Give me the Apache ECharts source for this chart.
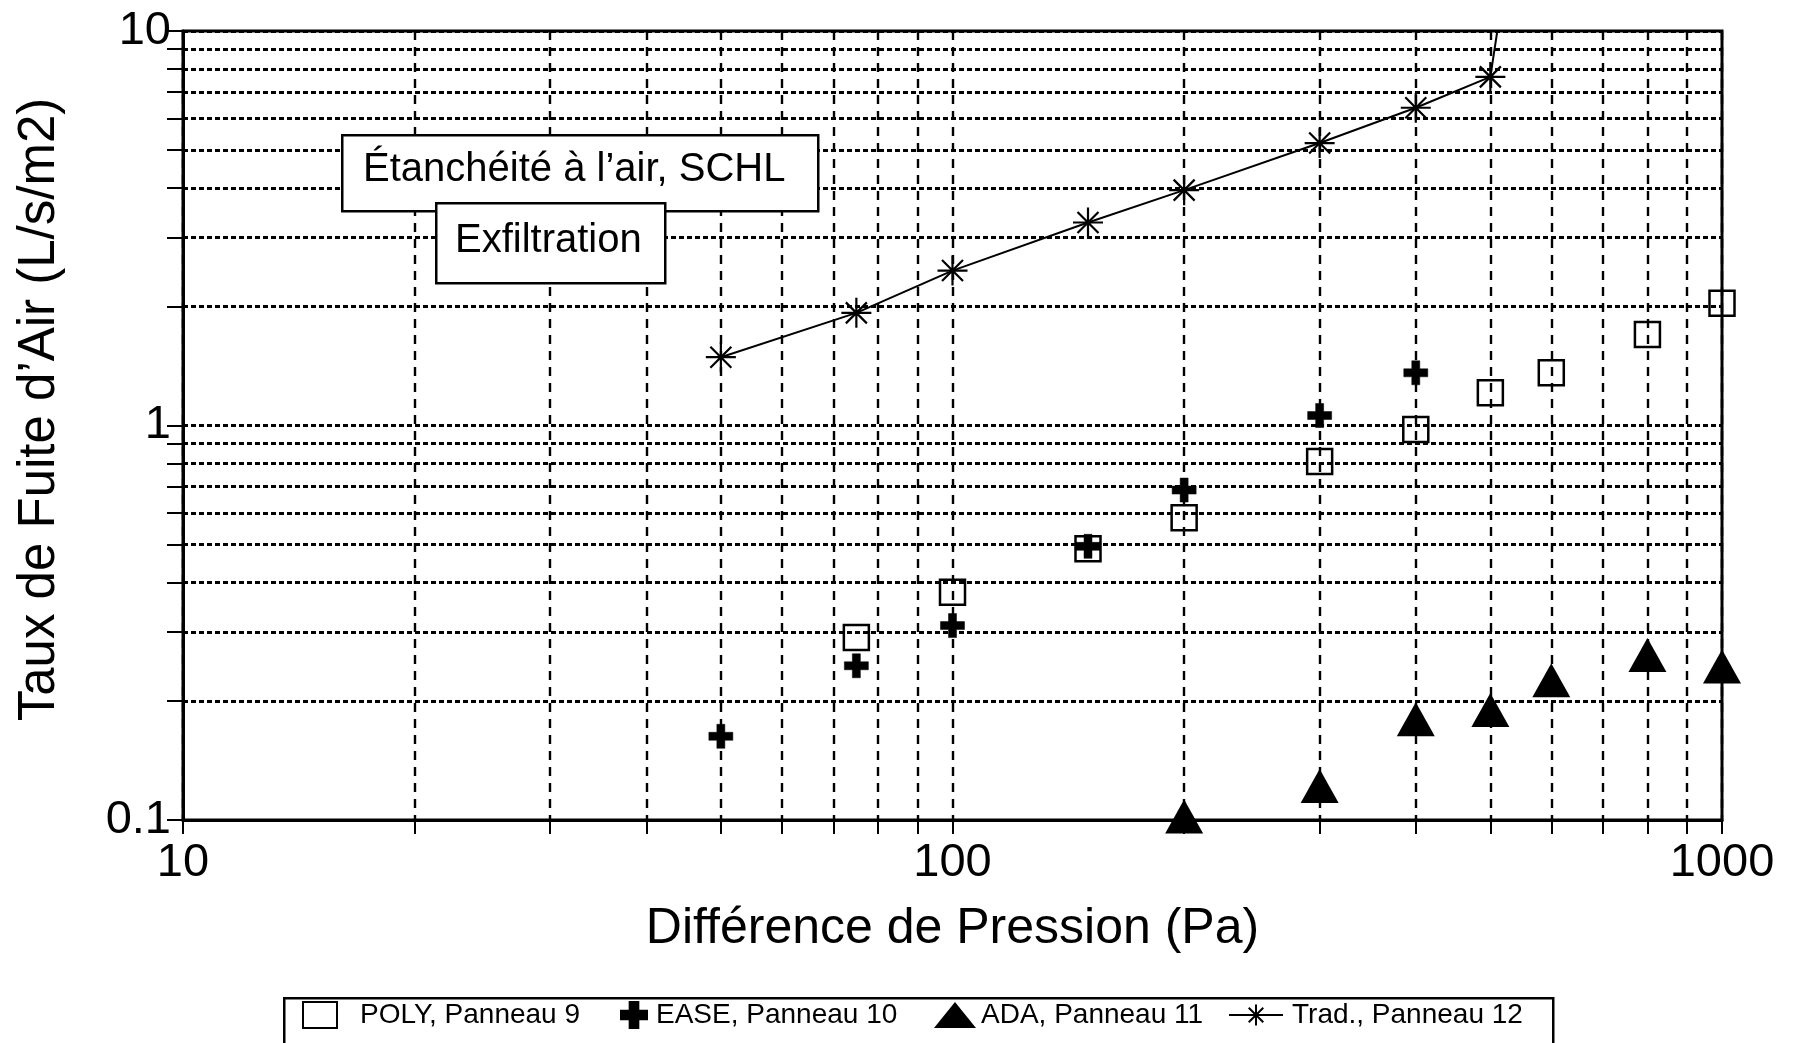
<!DOCTYPE html>
<html>
<head>
<meta charset="utf-8">
<script src="https://cdn.jsdelivr.net/npm/echarts@6/dist/echarts.min.js"></script>
<style>
html,body{margin:0;padding:0;background:#fff;}
#chart{width:1796px;height:1043px;}
</style>
</head>
<body>
<div id="chart"></div>
<script>
// ---- Data ----
const polyPressure = [75, 100, 150, 200, 300, 400, 500, 600, 800, 1000];
const polyRate     = [0.29, 0.378, 0.487, 0.584, 0.81, 0.977, 1.21, 1.36, 1.70, 2.04];

const easePressure = [50, 75, 100, 150, 200, 300, 400];
const easeRate     = [0.163, 0.246, 0.311, 0.494, 0.686, 1.06, 1.36];

const adaPressure  = [200, 300, 400, 500, 600, 800, 1000];
const adaRate      = [0.102, 0.122, 0.18, 0.19, 0.226, 0.262, 0.245];

const tradPressure = [50, 75, 100, 150, 200, 300, 400, 500, 600];
const tradRate     = [1.49, 1.93, 2.47, 3.27, 3.95, 5.2, 6.39, 7.65, 80];

const seriesNames = ['POLY, Panneau 9', 'EASE, Panneau 10', 'ADA, Panneau 11', 'Trad., Panneau 12'];

const xTickValues  = [10, 20, 30, 40, 50, 60, 70, 80, 90, 100, 200, 300, 400, 500, 600, 700, 800, 900, 1000];
const xLabelValues = [10, 100, 1000];
const yTickValues  = [0.1, 0.2, 0.3, 0.4, 0.5, 0.6, 0.7, 0.8, 0.9, 1, 2, 3, 4, 5, 6, 7, 8, 9, 10];
const yLabelValues = [0.1, 1, 10];

const xTitle = 'Différence de Pression (Pa)';
const yTitle = 'Taux de Fuite d\u2019Air (L/s/m2)';
const note1 = 'Étanchéité à l\u2019air, SCHL';
const note2 = 'Exfiltration';

function pairs(xs, ys) { return xs.map((x, i) => [x, ys[i]]); }

const FONT = '"Liberation Sans", Arial, Helvetica, sans-serif';
const plusPath = 'path://M-1,-3L1,-3L1,-1L3,-1L3,1L1,1L1,3L-1,3L-1,1L-3,1L-3,-1L-1,-1Z';
const starPath = 'path://M0,-10L0,10M-10,0L10,0M-7,-7L7,7M-7,7L7,-7';

const chart = echarts.init(document.getElementById('chart'), null, {renderer: 'canvas'});

function legendFor(name, left, itemWidth, textPad) {
  return {
    data: [name],
    left: left,
    top: 1001,
    orient: 'horizontal',
    itemWidth: itemWidth,
    itemHeight: 26,
    padding: 0,
    selectedMode: false,
    textStyle: {fontFamily: FONT, fontSize: 28, color: '#000', padding: [0, 0, 0, textPad]}
  };
}

const option = {
  backgroundColor: '#fff',
  animation: false,
  grid: {
    left: 183, right: 74, top: 31, bottom: 223,
    containLabel: false, outerBoundsMode: 'none',
    show: true, borderColor: '#000', borderWidth: 3, backgroundColor: 'transparent'
  },
  xAxis: {
    type: 'log', logBase: 10, min: 10, max: 1000,
    name: xTitle, nameLocation: 'middle', nameGap: 84,
    nameTextStyle: {fontFamily: FONT, fontSize: 50, color: '#000'},
    axisLine: {show: true, lineStyle: {color: '#000', width: 3}},
    axisTick: {show: true, inside: false, length: 14, customValues: xTickValues, lineStyle: {color: '#000', width: 2}},
    axisLabel: {customValues: xLabelValues, fontFamily: FONT, fontSize: 47, color: '#000', margin: 20,
      formatter: v => String(v)},
    splitLine: {show: true, lineStyle: {color: '#000', width: 2.4, type: [9, 7]}},
    minorTick: {show: false}, minorSplitLine: {show: false}
  },
  yAxis: {
    type: 'log', logBase: 10, min: 0.1, max: 10,
    name: yTitle, nameLocation: 'middle', nameGap: 118,
    nameTextStyle: {fontFamily: FONT, fontSize: 51, color: '#000', padding: [0, 0, 0, 32]},
    axisLine: {show: true, lineStyle: {color: '#000', width: 3}},
    axisTick: {show: true, inside: false, length: 16, customValues: yTickValues, lineStyle: {color: '#000', width: 2}},
    axisLabel: {customValues: yLabelValues, fontFamily: FONT, fontSize: 47, color: '#000', margin: 12,
      formatter: v => String(v)},
    splitLine: {show: true, lineStyle: {color: '#000', width: 3, type: [5, 3]}},
    minorTick: {show: false}, minorSplitLine: {show: false}
  },
  legend: [
    legendFor(seriesNames[0], 302, 34, 18),
    legendFor(seriesNames[1], 620, 34, 0),
    legendFor(seriesNames[2], 934, 42, 0),
    legendFor(seriesNames[3], 1228, 54, 4)
  ],
  graphic: [
    {type: 'rect', left: 283, top: 997, z: 0, silent: true,
      shape: {width: 1269, height: 90},
      style: {fill: '#fff', stroke: '#000', lineWidth: 2.5}},
    {type: 'rect', left: 341, top: 134, z: 100, silent: true,
      shape: {width: 476, height: 76},
      style: {fill: '#fff', stroke: '#000', lineWidth: 2.5}},
    {type: 'text', left: 363, top: 150, z: 101, silent: true,
      style: {text: note1, fontFamily: FONT, fontSize: 40, fill: '#000'}},
    {type: 'rect', left: 435, top: 202, z: 102, silent: true,
      shape: {width: 229, height: 80},
      style: {fill: '#fff', stroke: '#000', lineWidth: 2.5}},
    {type: 'text', left: 455, top: 221, z: 103, silent: true,
      style: {text: note2, fontFamily: FONT, fontSize: 40, fill: '#000'}}
  ],
  series: [
    {
      name: seriesNames[0], type: 'scatter', data: pairs(polyPressure, polyRate),
      symbol: 'rect', symbolSize: 25, z: 5,
      itemStyle: {color: 'rgba(255,255,255,0)', borderColor: '#000', borderWidth: 2.5, opacity: 1}
    },
    {
      name: seriesNames[1], type: 'scatter', data: pairs(easePressure, easeRate),
      symbol: plusPath, symbolSize: 24, z: 6,
      itemStyle: {color: '#000', borderColor: '#000', borderWidth: 0.5, opacity: 1}
    },
    {
      name: seriesNames[2], type: 'scatter', data: pairs(adaPressure, adaRate),
      symbol: 'triangle', symbolSize: [38, 34], z: 6,
      itemStyle: {color: '#000', opacity: 1}
    },
    {
      name: seriesNames[3], type: 'line', data: pairs(tradPressure, tradRate),
      symbol: starPath, symbolSize: 30, showSymbol: true, clip: true, z: 4,
      lineStyle: {color: '#000', width: 2},
      itemStyle: {color: '#000', borderColor: '#000', borderWidth: 2.2}
    }
  ]
};
chart.setOption(option);
</script>
</body>
</html>
